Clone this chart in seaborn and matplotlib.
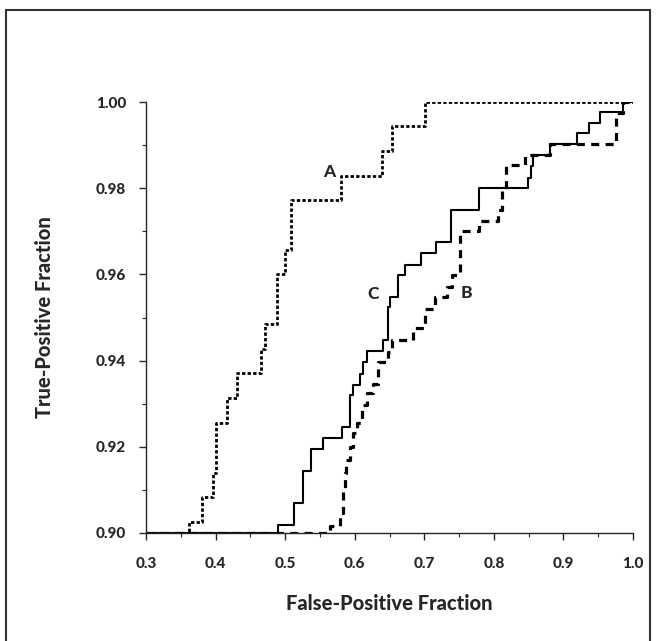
import matplotlib
matplotlib.use("Agg")
import matplotlib.pyplot as plt
from matplotlib.patches import Rectangle
from matplotlib.ticker import MultipleLocator, FormatStrFormatter
import seaborn as sns
import pandas as pd

# ---- data ----
a_fpf = [0.300, 0.362, 0.381, 0.396, 0.401, 0.417, 0.431, 0.465, 0.471, 0.488,
         0.500, 0.508, 0.581, 0.639, 0.653, 0.701, 1.000]
a_tpf = [0.900, 0.9026, 0.9084, 0.9140, 0.9255, 0.9313, 0.9372, 0.9426, 0.9485, 0.9602,
         0.9657, 0.9773, 0.9828, 0.9886, 0.9944, 1.000, 1.000]

b_fpf = [0.300, 0.564, 0.579, 0.583, 0.586, 0.588, 0.593, 0.598, 0.603, 0.610,
         0.617, 0.627, 0.633, 0.648, 0.653, 0.684, 0.701, 0.715, 0.733, 0.740,
         0.752, 0.778, 0.806, 0.812, 0.818, 0.845, 0.881, 0.976, 0.986, 1.000]
b_tpf = [0.900, 0.9016, 0.9046, 0.9100, 0.9140, 0.9170, 0.9200, 0.9231, 0.9255, 0.9297,
         0.9324, 0.9345, 0.9397, 0.9420, 0.9448, 0.9475, 0.9520, 0.9548, 0.9571, 0.9599,
         0.9700, 0.9724, 0.9749, 0.9796, 0.9854, 0.9877, 0.9902, 0.9974, 1.000, 1.000]

c_fpf = [0.300, 0.490, 0.513, 0.525, 0.537, 0.555, 0.582, 0.593, 0.597, 0.607,
         0.612, 0.617, 0.640, 0.648, 0.650, 0.662, 0.672, 0.695, 0.717, 0.738,
         0.779, 0.849, 0.854, 0.856, 0.881, 0.919, 0.937, 0.952, 0.986, 1.000]
c_tpf = [0.900, 0.9019, 0.9069, 0.9145, 0.9196, 0.9221, 0.9247, 0.9320, 0.9343, 0.9370,
         0.9397, 0.9423, 0.9448, 0.9525, 0.9548, 0.9599, 0.9622, 0.9649, 0.9675, 0.9749,
         0.9800, 0.9824, 0.9852, 0.9876, 0.9902, 0.9927, 0.9952, 0.9977, 1.000, 1.000]

curve_labels = ["A", "B", "C"]
label_pos_x = [0.564, 0.761, 0.626]
label_pos_y = [0.9838, 0.9557, 0.9555]

x_ticks = [0.3, 0.4, 0.5, 0.6, 0.7, 0.8, 0.9, 1.0]
y_ticks = [0.90, 0.92, 0.94, 0.96, 0.98, 1.00]

# ---- plotting ----
sns.set_style("ticks")
plt.rcParams['font.family'] = ['Lato', 'DejaVu Sans']

fig = plt.figure(figsize=(6.56, 6.41), dpi=100)
ax = fig.add_axes([146/656, 108/641, (633-146)/656, (533-102)/641])

df_a = pd.DataFrame({"fpf": a_fpf, "tpf": a_tpf})
df_b = pd.DataFrame({"fpf": b_fpf, "tpf": b_tpf})
df_c = pd.DataFrame({"fpf": c_fpf, "tpf": c_tpf})

sns.lineplot(data=df_a, x="fpf", y="tpf", ax=ax, estimator=None, sort=False,
             drawstyle="steps-post", color="black", linewidth=2.0,
             linestyle=(0, (1.2, 0.8)))
sns.lineplot(data=df_b, x="fpf", y="tpf", ax=ax, estimator=None, sort=False,
             drawstyle="steps-post", color="black", linewidth=2.3,
             linestyle=(0, (2.5, 2.0)))
sns.lineplot(data=df_c, x="fpf", y="tpf", ax=ax, estimator=None, sort=False,
             drawstyle="steps-post", color="black", linewidth=1.5)

for lab, lx, ly in zip(curve_labels, label_pos_x, label_pos_y):
    ax.text(lx, ly, lab, fontsize=12.5, fontweight="black", ha="center", va="center")

ax.set_xlim(0.3, 1.0)
ax.set_ylim(0.90, 1.00)
ax.set_xticks(x_ticks)
ax.set_yticks(y_ticks)
ax.xaxis.set_minor_locator(MultipleLocator(0.05))
ax.yaxis.set_minor_locator(MultipleLocator(0.01))
ax.xaxis.set_major_formatter(FormatStrFormatter("%.1f"))
ax.yaxis.set_major_formatter(FormatStrFormatter("%.2f"))
ax.tick_params(which="major", direction="out", length=5, width=1.0, labelsize=11)
ax.tick_params(which="minor", direction="out", length=3, width=0.8)
ax.tick_params(axis="x", which="major", pad=12)
ax.tick_params(axis="y", which="major", pad=9.5)
for lbl in ax.get_xticklabels() + ax.get_yticklabels():
    lbl.set_fontweight("black")

sns.despine(ax=ax)
ax.spines["left"].set_linewidth(1.0)
ax.spines["bottom"].set_linewidth(1.0)

ax.set_xlabel("False-Positive Fraction", fontsize=14.5, fontweight="black", labelpad=17)
ax.set_ylabel("True-Positive Fraction", fontsize=14.5, fontweight="black", labelpad=30)

# outer frame
fig.patches.append(Rectangle((6/656, -0.02), (650-6)/656, (631/641)+0.02,
                             transform=fig.transFigure, fill=False,
                             edgecolor="#333333", linewidth=1.5))

fig.savefig("out.png", dpi=100)
